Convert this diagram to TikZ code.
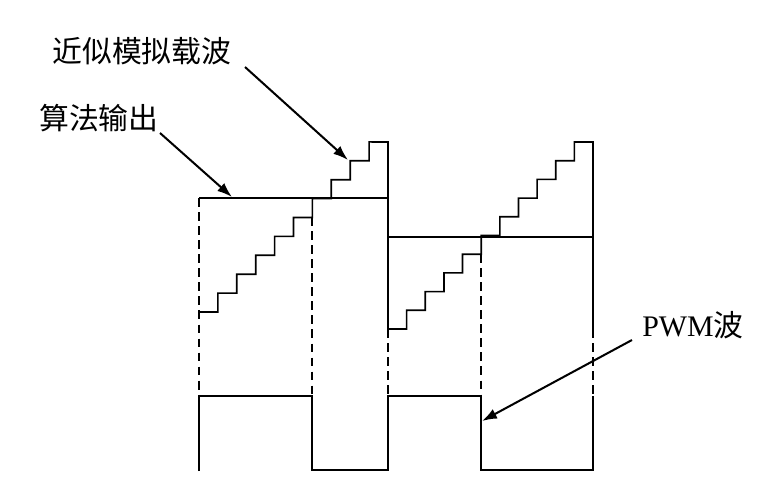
\documentclass[tikz,border=0pt]{standalone}
\usepackage{fontspec}
\setmainfont{Liberation Serif}
\newfontfamily\cjk{Noto Sans CJK SC}
\usetikzlibrary{arrows.meta}

\begin{document}
\begin{tikzpicture}[x=0.02cm, y=-0.02cm, line width=0.95pt,
    >={Latex[length=8.5pt,width=6pt]},
    lbl/.style={font=\fontsize{17}{20}\selectfont, inner sep=0pt},
    pointer/.style={->, line width=1.15pt},
    guide/.style={dash pattern=on 5pt off 3pt}]

        \useasboundingbox (0,0) rectangle (782,504);

        % --- Linee tratteggiate di riferimento ---
        \draw[guide] (199,198) -- (199,396);
        \draw[guide] (312,217) -- (312,396);
        \draw[guide] (388,329) -- (388,396);
        \draw[guide] (481,254) -- (481,396);
        \draw[guide] (593,329) -- (593,396);

        % --- Uscita dell'algoritmo ---
        \draw (199,198) -- (388,198);
        \draw (388,237) -- (593,237);

        % --- Portante a gradini (due periodi) ---
        \draw (199,312) \foreach \k in {1,...,9} { -- ++(18.9,0) -- ++(0,-18.9) }
            -- (388,142) -- (388,329);
        \draw (388,329) \foreach \k in {1,...,10} { -- ++(18.64,0) -- ++(0,-18.7) }
            -- (593,142) -- (593,329);

        % --- Onda PWM ---
        \draw (199,471) -- (199,396) -- (312,396) -- (312,470) -- (388,470)
            -- (388,396) -- (481,396) -- (481,470) -- (593,470) -- (593,396);

        % --- Etichette ---
        \node[lbl] (lblCarrier) at (142,51) {\cjk 近似模拟载波};
        \node[lbl] (lblOutput) at (99,118) {\cjk 算法输出};
        \node[lbl] (lblPWM) at (693,325) {PWM{\cjk 波}};

        \coordinate (tailCarrier) at (245,67);
        \coordinate (tipCarrier) at (348,160);
        \coordinate (tailOutput) at (160,133);
        \coordinate (tipOutput) at (232,197);
        \coordinate (tailPWM) at (632,340);
        \coordinate (tipPWM) at (482,421);

        % --- Frecce ---
        \draw[pointer] (tailCarrier) -- (tipCarrier);
        \draw[pointer] (tailOutput) -- (tipOutput);
        \draw[pointer] (tailPWM) -- (tipPWM);

\end{tikzpicture}
\end{document}
